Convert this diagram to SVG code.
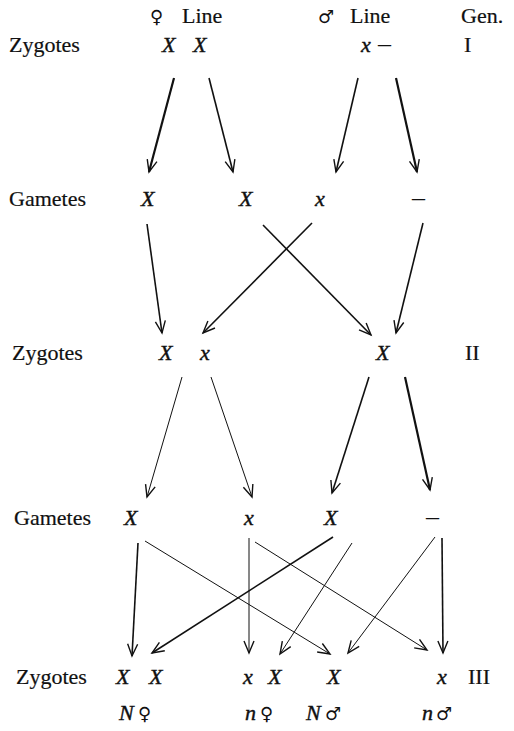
<svg xmlns="http://www.w3.org/2000/svg" width="514" height="731" viewBox="0 0 514 731">
<style>
.lab{font-family:"Liberation Serif","Times New Roman",serif;font-size:22px;fill:#111;stroke:#111;stroke-width:0.2}
.it{font-family:"Liberation Serif","Times New Roman",serif;font-style:italic;font-size:22px;fill:#111;stroke:#111;stroke-width:0.4}
.dash{font-family:"Liberation Serif","Times New Roman",serif;font-size:26px;fill:#111}
.sym{font-family:"DejaVu Sans","Noto Sans",sans-serif;font-size:18px;fill:#111}
.a{fill:none;stroke:#111;marker-end:url(#ah)}
.thick{stroke-width:2.2}
.med{stroke-width:1.6}
.thin{stroke-width:1}
</style>
<defs>
<marker id="ah" markerUnits="userSpaceOnUse" markerWidth="16" markerHeight="14" refX="13" refY="6" orient="auto" viewBox="0 0 16 12">
<path d="M1,1 L13,6 L1,11" fill="none" stroke="#111" stroke-width="1.4"/>
</marker>
</defs>
<rect width="514" height="731" fill="#fff"/>
<g id="header">
<text class="sym" x="150" y="23">♀</text><text class="lab" x="182" y="23">Line</text>
<text class="sym" x="318" y="23">♂</text><text class="lab" x="350" y="23">Line</text>
<text class="lab" x="461" y="23">Gen.</text>
</g>
<g id="zygotes-I">
<text class="lab" x="9" y="52">Zygotes</text>
<text class="it" x="162" y="52">X</text><text class="it" x="193" y="52">X</text>
<text class="it" x="361" y="52">x</text><text class="dash" x="378" y="52">–</text>
<text class="lab" x="464" y="52">I</text>
</g>
<g id="gametes-1">
<text class="lab" x="9" y="206">Gametes</text>
<text class="it" x="141" y="206">X</text>
<text class="it" x="239" y="206">X</text>
<text class="it" x="315" y="206">x</text>
<text class="dash" x="412" y="206">–</text>
</g>
<g id="zygotes-II">
<text class="lab" x="12" y="360">Zygotes</text>
<text class="it" x="159" y="360">X</text><text class="it" x="200" y="360">x</text>
<text class="it" x="376" y="360">X</text>
<text class="lab" x="465" y="360">II</text>
</g>
<g id="gametes-2">
<text class="lab" x="14" y="525">Gametes</text>
<text class="it" x="124" y="525">X</text>
<text class="it" x="244" y="525">x</text>
<text class="it" x="324" y="525">X</text>
<text class="dash" x="426" y="525">–</text>
</g>
<g id="zygotes-III">
<text class="lab" x="16" y="684">Zygotes</text>
<text class="it" x="116" y="684">X</text><text class="it" x="149" y="684">X</text>
<text class="it" x="243" y="684">x</text><text class="it" x="268" y="684">X</text>
<text class="it" x="327" y="684">X</text>
<text class="it" x="437" y="684">x</text>
<text class="lab" x="468" y="684">III</text>
</g>
<g id="phenotypes">
<text class="it" x="119" y="720">N</text><text class="sym" x="138" y="720">♀</text>
<text class="it" x="245" y="720">n</text><text class="sym" x="260" y="720">♀</text>
<text class="it" x="306" y="720">N</text><text class="sym" x="325" y="720">♂</text>
<text class="it" x="422" y="720">n</text><text class="sym" x="436" y="720">♂</text>
</g>
<g id="connectors">
<line class="a thick" x1="174" y1="78" x2="149" y2="172"/>
<line class="a med" x1="209" y1="78" x2="233" y2="172"/>
<line class="a med" x1="358" y1="78" x2="336" y2="172"/>
<line class="a thick" x1="396" y1="78" x2="417" y2="172"/>
<line class="a med" x1="147" y1="224" x2="162" y2="333"/>
<line class="a med" x1="263" y1="225" x2="371" y2="335"/>
<line class="a med" x1="312" y1="223" x2="203" y2="333"/>
<line class="a med" x1="423" y1="223" x2="396" y2="333"/>
<line class="a thin" x1="182" y1="377" x2="147" y2="497"/>
<line class="a thin" x1="211" y1="377" x2="252" y2="497"/>
<line class="a med" x1="369" y1="377" x2="332" y2="493"/>
<line class="a thick" x1="405" y1="377" x2="430" y2="490"/>
<line class="a med" x1="138" y1="543" x2="132" y2="656"/>
<line class="a thin" x1="145" y1="541" x2="330" y2="654"/>
<line class="a thin" x1="249" y1="538" x2="249" y2="653"/>
<line class="a thin" x1="255" y1="542" x2="427" y2="650"/>
<line class="a med" x1="333" y1="537" x2="152" y2="653"/>
<line class="a thin" x1="352" y1="543" x2="280" y2="654"/>
<line class="a thin" x1="435" y1="537" x2="348" y2="653"/>
<line class="a med" x1="442" y1="538" x2="443" y2="653"/>
</g>
</svg>
